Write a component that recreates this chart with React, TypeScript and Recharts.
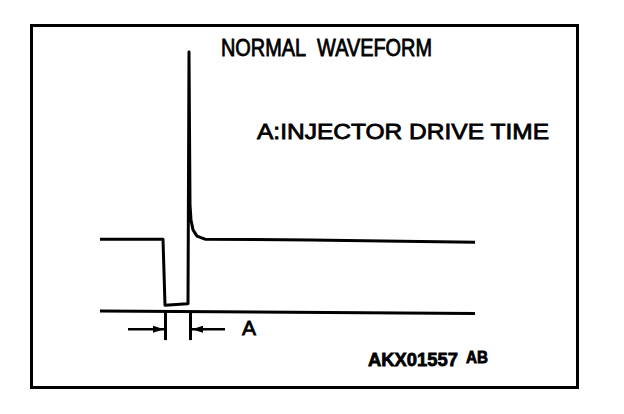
import React from "react";
import {
  LineChart,
  Line,
  XAxis,
  YAxis,
  ReferenceLine,
  ReferenceDot,
} from "recharts";

// injector voltage trace, time in ms, volts
const waveTime = [0, 2.52, 2.6, 3.5, 3.52, 3.56, 3.6, 3.64, 3.72, 3.88, 4.2, 8.4, 15];
const waveVolts = [14, 14, 1.3, 1.6, 1.6, 50, 20.6, 17.7, 15.8, 14.6, 14.0, 13.85, 13.4];

// ground reference
const groundTime = [0, 15];
const groundVolts = [0.2, -0.3];

// "A" drive time markers
const markStart = 2.62;
const markEnd = 3.62;
const markTail = [1.12, 5.0];
const markLevel = -3.3;
const markDepth = -5.4;

const title = "NORMAL\u00a0 WAVEFORM";
const subtitle = "A:INJECTOR DRIVE TIME";
const figureCode = "AKX01557";
const figureSuffix = "AB";

const waveData = waveTime.map((t, i) => ({ t, v: waveVolts[i] }));
const groundData = groundTime.map((t, i) => ({ t, v: groundVolts[i] }));

const font = "'Liberation Sans', Arial, sans-serif";

const Arrow = (dir: number) => (props: any) => {
  const { cx, cy } = props;
  const tip = cx - dir * 1.5;
  const back = tip - dir * 11;
  return (
    <polygon
      points={`${tip},${cy} ${back},${cy - 3.5} ${back},${cy + 3.5}`}
      fill="#000"
    />
  );
};

function Texts() {
  return (
    <g fontFamily={font} fill="#000" stroke="#000" strokeWidth={0.8}>
      <text x={213} y={48} fontSize={23} textLength={211} lengthAdjust="spacingAndGlyphs">
        {title}
      </text>
      <text x={249} y={131} fontSize={22} textLength={292} lengthAdjust="spacingAndGlyphs">
        {subtitle}
      </text>
      <text x={234} y={327} fontSize={21}>
        A
      </text>
      <text x={360} y={358} fontSize={19} fontWeight="bold" textLength={90} lengthAdjust="spacingAndGlyphs">
        {figureCode}
      </text>
      <text x={458} y={355} fontSize={17} fontWeight="bold" textLength={22} lengthAdjust="spacingAndGlyphs">
        {figureSuffix}
      </text>
    </g>
  );
}

export default function App() {
  return (
    <div style={{ position: "relative", width: 608, height: 398 }}>
      <LineChart
        width={608}
        height={398}
        margin={{ top: 44, right: 141, bottom: 88.8, left: 92 }}
      >
        <XAxis type="number" dataKey="t" domain={[0, 15]} hide />
        <YAxis type="number" dataKey="v" domain={[-1, 50]} hide />

        <Line
          data={groundData}
          dataKey="v"
          type="linear"
          stroke="#000"
          strokeWidth={3}
          dot={false}
          isAnimationActive={false}
        />
        <Line
          data={waveData}
          dataKey="v"
          type="linear"
          stroke="#000"
          strokeWidth={3}
          strokeLinejoin="round"
          dot={false}
          isAnimationActive={false}
        />

        <ReferenceLine
          segment={[{ x: markStart, y: 0 }, { x: markStart, y: markDepth }]}
          stroke="#000"
          strokeWidth={3}
          ifOverflow="visible"
        />
        <ReferenceLine
          segment={[{ x: markEnd, y: 0 }, { x: markEnd, y: markDepth }]}
          stroke="#000"
          strokeWidth={3}
          ifOverflow="visible"
        />
        <ReferenceLine
          segment={[{ x: markTail[0], y: markLevel }, { x: markStart, y: markLevel }]}
          stroke="#000"
          strokeWidth={2.5}
          ifOverflow="visible"
        />
        <ReferenceLine
          segment={[{ x: markEnd, y: markLevel }, { x: markTail[1], y: markLevel }]}
          stroke="#000"
          strokeWidth={2.5}
          ifOverflow="visible"
        />
        <ReferenceDot x={markStart} y={markLevel} ifOverflow="visible" shape={Arrow(1)} />
        <ReferenceDot x={markEnd} y={markLevel} ifOverflow="visible" shape={Arrow(-1)} />

        <Texts />
      </LineChart>
      <div
        style={{
          position: "absolute",
          left: 22,
          top: 16,
          width: 549,
          height: 365,
          border: "3px solid #000",
          boxSizing: "border-box",
          pointerEvents: "none",
        }}
      />
    </div>
  );
}
